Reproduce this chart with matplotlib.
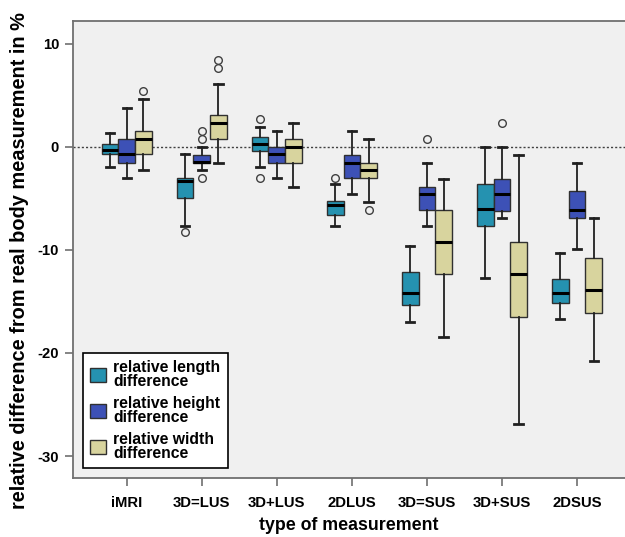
import matplotlib
matplotlib.use("Agg")
import matplotlib.pyplot as plt
from matplotlib.patches import Patch

plt.rcParams['font.family'] = ['Liberation Sans', 'DejaVu Sans']

categories = ["iMRI", "3D=LUS", "3D+LUS", "2DLUS", "3D=SUS", "3D+SUS", "2DSUS"]
series_names = ["relative length\ndifference", "relative height\ndifference", "relative width\ndifference"]

# each entry: (whislo, q1, med, q3, whishi, [outliers])
length_stats = [
    (-2.0, -0.7, -0.3, 0.3, 1.3, []),
    (-7.7, -5.0, -3.3, -3.0, -0.7, [-8.3]),
    (-2.0, -0.4, 0.3, 0.9, 1.9, [2.7, -3.0]),
    (-7.7, -6.6, -5.65, -5.3, -3.65, [-3.0]),
    (-17.0, -15.35, -14.15, -12.2, -9.65, []),
    (-12.7, -7.7, -6.0, -3.65, 0.0, []),
    (-16.7, -15.2, -14.15, -12.85, -10.35, []),
]
height_stats = [
    (-3.05, -1.55, -0.75, 0.75, 3.8, []),
    (-2.3, -1.6, -1.5, -0.8, 0.0, [1.5, 0.7, -3.05]),
    (-3.05, -1.55, -0.75, 0.0, 1.5, []),
    (-4.6, -3.05, -1.55, -0.8, 1.5, []),
    (-7.65, -6.15, -4.6, -3.9, -1.55, [0.75]),
    (-6.95, -6.2, -4.6, -3.1, 0.0, [2.3]),
    (-9.95, -6.95, -6.15, -4.25, -1.55, []),
]
width_stats = [
    (-2.3, -0.75, 0.75, 1.5, 4.6, [5.4]),
    (-1.55, 0.75, 2.3, 3.05, 6.1, [7.65, 8.4]),
    (-3.9, -1.55, 0.0, 0.75, 2.3, []),
    (-5.4, -3.05, -2.3, -1.55, 0.75, [-6.15]),
    (-18.5, -12.3, -9.25, -6.15, -3.1, []),
    (-26.9, -16.55, -12.3, -9.25, -0.8, []),
    (-20.75, -16.15, -13.85, -10.75, -6.95, []),
]
all_series = [length_stats, height_stats, width_stats]
colors = ["#2592B0", "#3D51B6", "#D8D49E"]
offsets = [-0.222, 0.0, 0.222]
box_w = 0.222

fig = plt.figure(figsize=(6.25, 5.37), dpi=100)
ax = fig.add_axes([73/625, 1-478/537, 1-73/625, (478-21)/537])
ax.set_facecolor("#F0F0F0")

ax.axhline(0, color="#404040", linestyle=(0, (1.5, 1.5)), linewidth=1.0, zorder=1)

for stats, col, off in zip(all_series, colors, offsets):
    bstats = []
    for s in stats:
        bstats.append(dict(whislo=s[0], q1=s[1], med=s[2], q3=s[3], whishi=s[4], fliers=s[5]))
    pos = [i + off for i in range(len(categories))]
    ax.bxp(bstats, positions=pos, widths=box_w, patch_artist=True, showfliers=True,
           boxprops=dict(facecolor=col, edgecolor="#303030", linewidth=1.0),
           medianprops=dict(color="black", linewidth=2.2),
           whiskerprops=dict(color="#202020", linewidth=1.3),
           capprops=dict(color="#202020", linewidth=2.0),
           capwidths=0.11,
           flierprops=dict(marker="o", markersize=5.5, markerfacecolor="none",
                           markeredgecolor="#404040", markeredgewidth=1.0),
           manage_ticks=False, zorder=3)

ax.set_xlim(-0.716, 6.64)
ax.set_ylim(-32.13, 12.19)
ax.set_xticks(range(len(categories)))
ax.set_xticklabels(categories, fontsize=10.7, fontweight="bold")
ax.set_yticks([10, 0, -10, -20, -30])
ax.set_yticklabels(["10", "0", "-10", "-20", "-30"], fontsize=10.7, fontweight="bold")
ax.tick_params(axis="both", direction="out", length=6, width=1.2, color="#707070", pad=4)
ax.tick_params(axis="x", pad=7)
for sp in ["left", "bottom", "top"]:
    ax.spines[sp].set_color("#707070")
    ax.spines[sp].set_linewidth(1.3)
ax.spines["right"].set_visible(False)

ax.set_xlabel("type of measurement", fontsize=12.8, fontweight="bold", labelpad=5)
fig.text(19.5/625, 1-261/537, "relative difference from real body measurement in %",
         fontsize=14.4, fontweight="bold", rotation=90, ha="center", va="center")

handles = [Patch(facecolor=c, edgecolor="#303030", linewidth=1.0) for c in colors]
leg = ax.legend(handles, series_names, loc="lower left", bbox_to_anchor=(0.0176, 0.022),
                borderaxespad=0, frameon=True, fancybox=False, framealpha=1,
                edgecolor="black", prop=dict(size=11.3, weight="bold"),
                handlelength=1.05, handleheight=1.0, handletextpad=0.45,
                labelspacing=0.45, borderpad=0.45)
leg.get_frame().set_linewidth(1.2)
for t in leg.get_texts():
    t.set_linespacing(0.9)

fig.savefig("out.png", dpi=100)
